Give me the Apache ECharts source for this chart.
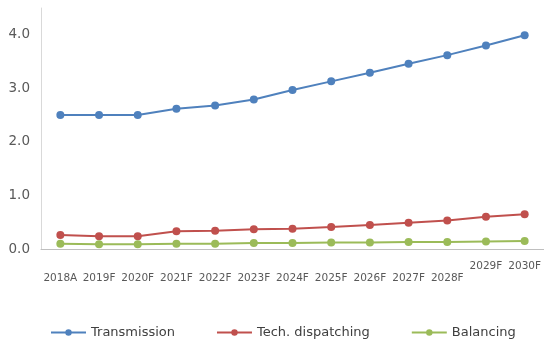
<!DOCTYPE html>
<html><head><meta charset="utf-8">
<script src="https://cdn.jsdelivr.net/npm/echarts@6/dist/echarts.min.js"></script>
<style>html,body{margin:0;padding:0;background:#fff}#c{width:544px;height:340px}</style>
</head><body><div id="c"></div>
<script>
const categories = ['2018A','2019F','2020F','2021F','2022F','2023F','2024F','2025F','2026F','2027F','2028F','2029F','2030F'];
const transmission = [2.5,2.5,2.5,2.62,2.68,2.79,2.97,3.13,3.29,3.46,3.62,3.8,3.99];
const techDispatching = [0.26,0.24,0.24,0.33,0.34,0.37,0.38,0.41,0.45,0.49,0.53,0.6,0.65];
const balancing = [0.1,0.09,0.09,0.1,0.1,0.11,0.11,0.12,0.12,0.13,0.13,0.14,0.15];
const yTicks = [0,1,2,3,4];

const chart = echarts.init(document.getElementById('c'));
const font = 'DejaVu Sans';
function mk(name, data, color){
  return {name, type:'line', data, symbol:'circle', symbolSize:8,
    lineStyle:{color, width:2}, itemStyle:{color}, emphasis:{disabled:true}};
}
chart.setOption({
  animation:false,
  grid:{left:41, right:-2, top:8, bottom:91},
  legend:{top:321, left:45, itemWidth:35, itemHeight:8, itemGap:41,
    textStyle:{fontFamily:font, fontSize:13, color:'#404040'},
    data:['Transmission','Tech. dispatching','Balancing']},
  xAxis:{type:'category', data:categories, boundaryGap:true,
    axisLine:{lineStyle:{color:'#bfbfbf'}}, axisTick:{show:false},
    axisLabel:{interval:0, margin:12, color:'#595959', fontFamily:font, fontSize:10.5,
      formatter:(v,i)=> i>=11 ? '{b|'+v+'}' : '{a|'+v+'}',
      rich:{a:{padding:[12,0,0,0], fontFamily:font, fontSize:10.5, color:'#595959'},
            b:{fontFamily:font, fontSize:10.5, color:'#595959'}}}},
  yAxis:{type:'value', min:0, max:4.5, interval:1,
    axisLine:{show:true, lineStyle:{color:'#d9d9d9'}}, axisTick:{show:false},
    splitLine:{show:false},
    axisLabel:{margin:11, color:'#595959', fontFamily:font, fontSize:13.5,
      formatter:v=> yTicks.includes(v) ? v.toFixed(1) : ''}},
  series:[mk('Transmission',transmission,'#4F81BD'),
          mk('Tech. dispatching',techDispatching,'#C0504D'),
          mk('Balancing',balancing,'#9BBB59')]
});
</script></body></html>
